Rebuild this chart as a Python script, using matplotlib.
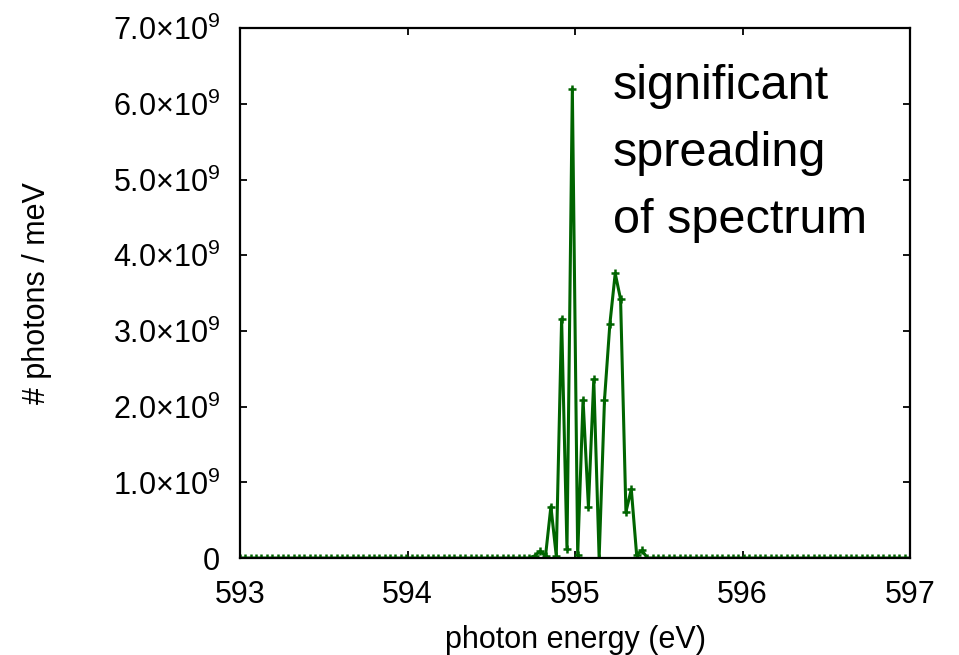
import matplotlib
matplotlib.use('Agg')
import matplotlib.pyplot as plt
import numpy as np

plt.rcParams['font.family'] = ['Liberation Sans', 'DejaVu Sans']
plt.rcParams['mathtext.fontset'] = 'custom'
plt.rcParams['mathtext.rm'] = 'Liberation Sans'
plt.rcParams['mathtext.it'] = 'Liberation Sans:italic'
plt.rcParams['mathtext.bf'] = 'Liberation Sans:bold'

LINE_GREEN = '#006400'

# photon energy grid (eV), 126 samples between 593 and 597
energy = np.linspace(593.0, 597.0, 126)

# spectrum in units of 1e9 photons / meV
peak_vals = [0.0, 0.0, 0.03, 0.09, 0.03, 0.68, 0.03, 3.16, 0.12, 6.2,
             0.04, 2.09, 0.68, 2.36, 0.0, 2.09, 3.09, 3.76, 3.42, 0.61,
             0.91, 0.04, 0.1, 0.0]
flux = [0.0] * 53 + peak_vals
flux = flux + [0.0] * (len(energy) - len(flux))
flux = np.array(flux) * 1e9

xticks = [593, 594, 595, 596, 597]
yticks = [0, 1e9, 2e9, 3e9, 4e9, 5e9, 6e9, 7e9]
ytick_labels = ['0'] + [r'$%.1f{\times}10^{9}$' % v for v in range(1, 8)]

fig = plt.figure(figsize=(9.59, 6.55), dpi=100)
ax = fig.add_axes([0.2503, 0.148, 0.6986, 0.809])

ax.plot(energy, flux, color=LINE_GREEN, linewidth=2.2, marker='+',
        markersize=6, markeredgewidth=1.8)

ax.set_xlim(593, 597)
ax.set_ylim(0, 7e9)
ax.set_xticks(xticks)
ax.set_xticklabels([str(t) for t in xticks])
ax.set_yticks(yticks)
ax.set_yticklabels(ytick_labels)
ax.tick_params(direction='in', length=5, width=1.3, labelsize=22,
               top=True, right=True)
ax.tick_params(axis='x', pad=15.5)
ax.tick_params(axis='y', pad=14.5)
for sp in ax.spines.values():
    sp.set_linewidth(1.6)

ax.set_xlabel('photon energy (eV)', fontsize=22)
ax.set_ylabel('# photons / meV', fontsize=22)
ax.xaxis.set_label_coords(0.5, -0.126)
ax.yaxis.set_label_coords(-0.281, 0.5)

ax.text(595.227, 4.29e9, 'significant\nspreading\nof spectrum', fontsize=35,
        ha='left', va='baseline', linespacing=1.63)

plt.savefig('out.png', dpi=100, facecolor='white')
